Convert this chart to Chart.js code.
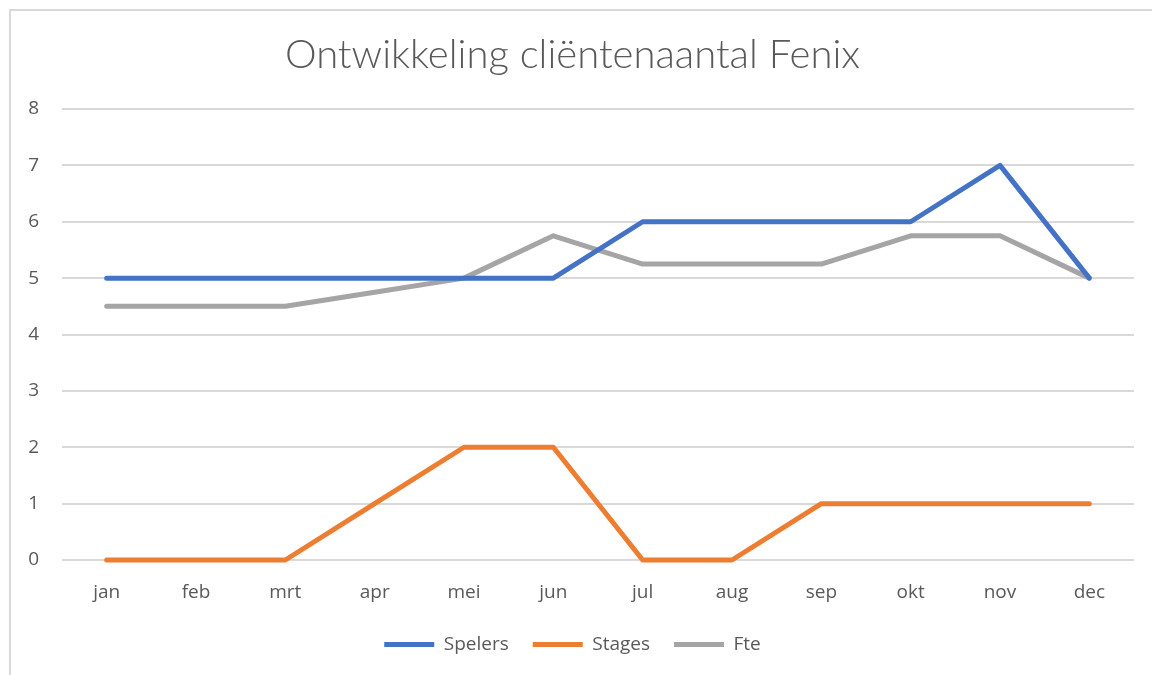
<!DOCTYPE html>
<html>
<head>
<meta charset="utf-8">
<script src="https://cdn.jsdelivr.net/npm/chart.js@4/dist/chart.umd.min.js"></script>
<style>
    html, body { margin: 0; padding: 0; background: #fff; }
    #wrap {
        position: absolute; left: 9px; top: 9px;
        width: 1143px; height: 666px;
        border-left: 2px solid #d9d9d9; border-top: 2px solid #d9d9d9;
    }
</style>
</head>
<body>
<div id="wrap"><canvas id="lineChart"></canvas></div>
<script>
const months = ['jan', 'feb', 'mrt', 'apr', 'mei', 'jun', 'jul', 'aug', 'sep', 'okt', 'nov', 'dec'];
const spelers = [5, 5, 5, 5, 5, 5, 6, 6, 6, 6, 7, 5];
const stages = [0, 0, 0, 1, 2, 2, 0, 0, 1, 1, 1, 1];
const fte = [4.5, 4.5, 4.5, 4.75, 5, 5.75, 5.25, 5.25, 5.25, 5.75, 5.75, 5];
const yTicks = [0, 1, 2, 3, 4, 5, 6, 7, 8];

const textColor = '#595959';
const font = '"Open Sans", Lato, sans-serif';

function series(label, data, color) {
    return {
        label: label,
        data: data,
        borderColor: color,
        backgroundColor: color,
        borderWidth: 5,
        borderCapStyle: 'round',
        borderJoinStyle: 'round',
        pointRadius: 0,
        pointHoverRadius: 0,
        tension: 0,
        clip: false
    };
}

const ctx = document.getElementById('lineChart').getContext('2d');

const lineChart = new Chart(ctx, {
    type: 'line',
    data: {
        labels: months,
        datasets: [
            series('Spelers', spelers, '#4472C4'),
            series('Stages', stages, '#ED7D31'),
            series('Fte', fte, '#A5A5A5')
        ]
    },
    options: {
        responsive: true,
        maintainAspectRatio: false,
        animation: false,
        layout: { padding: { top: 0, right: 20, bottom: 13, left: 0 } },
        plugins: {
            title: {
                display: true,
                text: 'Ontwikkeling cliëntenaantal Fenix',
                color: textColor,
                font: { family: 'Lato, sans-serif', size: 40, weight: '300' },
                padding: { top: 20, bottom: 30 }
            },
            legend: {
                position: 'bottom',
                labels: {
                    color: textColor,
                    font: { family: font, size: 19 },
                    usePointStyle: true,
                    pointStyleWidth: 50,
                    pointStyle: 'line',
                    boxHeight: 19,
                    padding: 24
                }
            },
            tooltip: { enabled: false }
        },
        scales: {
            x: {
                offset: true,
                grid: { display: false },
                border: { display: false },
                ticks: {
                    color: textColor,
                    font: { family: font, size: 19 },
                    padding: 13,
                    maxRotation: 0
                },
                afterFit: function (scale) { scale.height = 51; }
            },
            y: {
                min: 0,
                max: 8,
                afterBuildTicks: function (scale) {
                    scale.ticks = yTicks.map(v => ({ value: v }));
                },
                grid: { color: '#d9d9d9', lineWidth: 2, drawTicks: false },
                border: { display: false },
                ticks: {
                    color: textColor,
                    font: { family: font, size: 19 },
                    padding: 23
                },
                afterFit: function (scale) { scale.width = 51; }
            }
        }
    }
});
</script>
</body>
</html>
